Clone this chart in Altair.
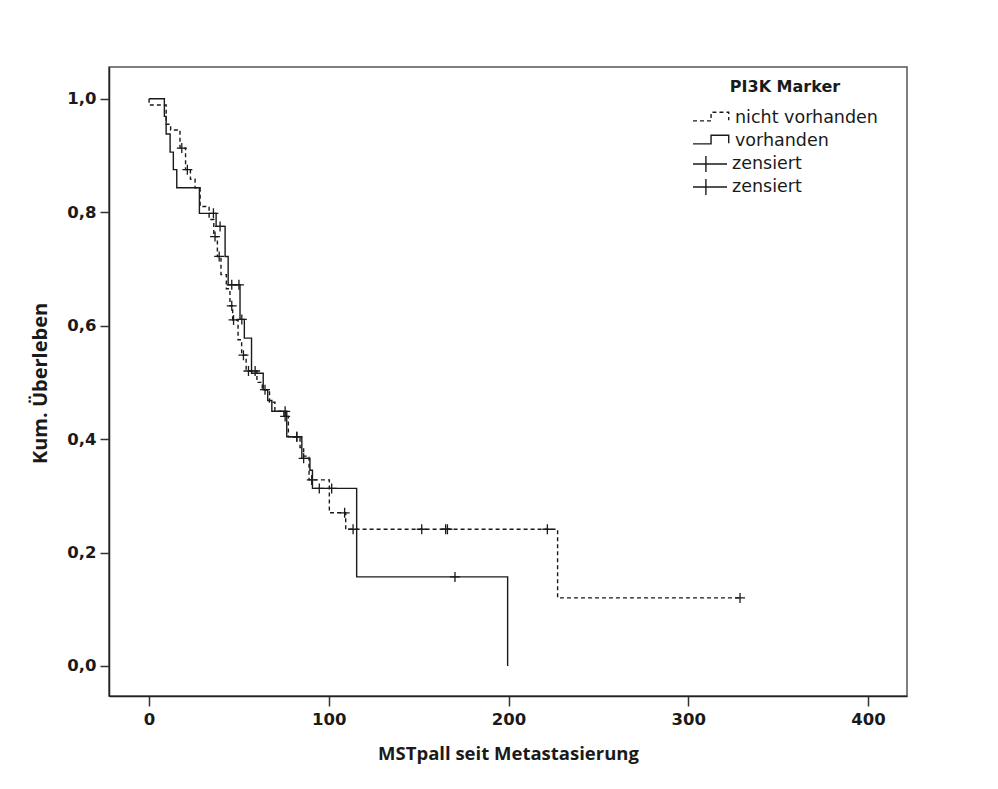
import altair as alt
import pandas as pd

# ---------------- data ----------------
groups = ["nicht vorhanden", "vorhanden"]
censor_groups = ["zensiert (nicht vorhanden)", "zensiert (vorhanden)"]

# step curve "nicht vorhanden" (dashed): time, survival after the step
dash_t = [0, 0, 9.5, 12.0, 17.2, 20.3, 23.0, 25.6, 28.4, 33.4, 36.0, 38.0, 40.0, 43.0,
          45.0, 46.5, 49.5, 51.5, 54.0, 60.0, 63.0, 67.0, 70.0, 75.0, 77.5, 84.0, 86.0,
          89.0, 100.3, 109.4, 227.3, 328.8]
dash_s = [1.0, 0.989, 0.955, 0.945, 0.913, 0.875, 0.858, 0.843, 0.81, 0.787, 0.757, 0.722,
          0.69, 0.665, 0.635, 0.61, 0.575, 0.548, 0.52, 0.5, 0.487, 0.465, 0.449, 0.44,
          0.404, 0.385, 0.37, 0.328, 0.27, 0.241, 0.12, 0.12]

# step curve "vorhanden" (solid)
solid_t = [0, 8.5, 9.5, 11.7, 13.5, 15.4, 28.0, 37.3, 42.3, 44.0, 50.6, 53.0, 57.0, 63.5,
           66.0, 68.3, 76.6, 85.0, 89.5, 90.9, 115.5, 199.5]
solid_s = [1.0, 0.969, 0.938, 0.906, 0.875, 0.843, 0.798, 0.775, 0.722, 0.672, 0.611, 0.578,
           0.516, 0.487, 0.468, 0.449, 0.404, 0.366, 0.345, 0.313, 0.157, 0.0]

# censored observations
cens_dash_t = [18.2, 21.3, 36.7, 39.0, 46.0, 47.0, 52.5, 55.3, 59.0, 64.5, 75.7, 82.2,
               90.5, 108.8, 113.5, 151.7, 165.0, 166.0, 221.6, 328.8]
cens_dash_s = [0.913, 0.875, 0.757, 0.722, 0.635, 0.61, 0.548, 0.52, 0.52, 0.487, 0.44,
               0.404, 0.328, 0.27, 0.241, 0.241, 0.241, 0.241, 0.241, 0.12]
cens_solid_t = [35.8, 39.5, 46.0, 50.0, 51.6, 75.7, 82.2, 86.0, 94.7, 101.6, 170.2]
cens_solid_s = [0.798, 0.775, 0.672, 0.672, 0.611, 0.449, 0.404, 0.366, 0.313, 0.313, 0.157]

x_ticks = [0, 100, 200, 300, 400]
y_ticks = [0.0, 0.2, 0.4, 0.6, 0.8, 1.0]

# ---------------- tables ----------------
lines = pd.DataFrame({
    "t": dash_t + solid_t,
    "s": dash_s + solid_s,
    "g": [groups[0]] * len(dash_t) + [groups[1]] * len(solid_t),
    "o": list(range(len(dash_t))) + list(range(len(solid_t))),
})
cens = pd.DataFrame({
    "t": cens_dash_t + cens_solid_t,
    "s": cens_dash_s + cens_solid_s,
    "c": [censor_groups[0]] * len(cens_dash_t) + [censor_groups[1]] * len(cens_solid_t),
})

FONT = "DejaVu Sans"
TFONT = "Open Sans"
INK = "#1a1a1a"

x_scale = alt.Scale(domain=[-22.3, 421.7], nice=False, zero=False)
y_scale = alt.Scale(domain=[-0.053, 1.056], nice=False, zero=False)

x_axis = alt.Axis(
    values=x_ticks, format="d", title="MSTpall seit Metastasierung",
    labelFont=FONT, labelFontSize=16.5, labelFontWeight="bold", labelColor=INK,
    labelPadding=5, tickSize=10, tickColor="#333", tickWidth=1.5,
    domainColor="#222", domainWidth=1.5, grid=False,
    titleFont=TFONT, titleFontSize=18.5, titleFontWeight="bold", titleColor=INK,
    titleX=399, titleY=57, titleBaseline="middle", titleAlign="center",
)
y_axis = alt.Axis(
    values=y_ticks, title="Kum. Überleben",
    labelExpr="replace(format(datum.value, '.1f'), '.', ',')",
    labelFont=FONT, labelFontSize=16.5, labelFontWeight="bold", labelColor=INK,
    labelPadding=4, tickSize=9, tickColor="#333", tickWidth=1.5,
    domainColor="#222", domainWidth=1.5, grid=False,
    titleFont=TFONT, titleFontSize=20, titleFontWeight="bold", titleColor=INK,
    titleX=-69, titleY=316, titleBaseline="middle", titleAlign="center", titleAngle=270,
)

step_symbol = "M-1,0.15 L-0.05,0.15 L-0.05,-0.3 L0.88,-0.3 L0.88,0.12"
cross_legend_symbol = "M-1,0 L1,0 M-0.24,-0.47 L-0.24,0.47"
cross_mark = "M-1,0 L1,0 M0,-1 L0,1"

line = alt.Chart(lines).mark_line(
    interpolate="step-after", color=INK, strokeWidth=1.4
).encode(
    x=alt.X("t:Q", scale=x_scale, axis=x_axis),
    y=alt.Y("s:Q", scale=y_scale, axis=y_axis),
    order="o:Q",
    strokeDash=alt.StrokeDash(
        "g:N",
        scale=alt.Scale(domain=groups, range=[[4, 3], [1, 0]]),
        legend=alt.Legend(
            title="PI3K Marker", orient="none", legendX=583, legendY=12,
            padding=0, titleAnchor="middle", titlePadding=13,
            titleFont=FONT, titleFontSize=16, titleFontWeight="bold", titleColor=INK,
            labelFont=FONT, labelFontSize=17.5, labelColor=INK, labelOffset=3,
            symbolType=step_symbol, symbolSize=1444, symbolStrokeWidth=1.4,
            symbolStrokeColor=INK, symbolFillColor="transparent",
            clipHeight=20, rowPadding=3,
        ),
    ),
)

points = alt.Chart(cens).mark_point(
    shape=cross_mark, filled=False, size=100, strokeWidth=1.3, opacity=1
).encode(
    x=alt.X("t:Q", scale=x_scale),
    y=alt.Y("s:Q", scale=y_scale),
    color=alt.Color(
        "c:N",
        scale=alt.Scale(domain=censor_groups, range=[INK, INK]),
        legend=alt.Legend(
            title=None, orient="none", legendX=583, legendY=87, padding=0,
            labelExpr="'zensiert'",
            labelFont=FONT, labelFontSize=17.5, labelColor=INK, labelOffset=4,
            symbolType=cross_legend_symbol, symbolSize=1156, symbolStrokeWidth=1.4,
            symbolFillColor="transparent",
            clipHeight=20, rowPadding=3,
        ),
    ),
)

chart = alt.layer(line, points).resolve_legend(
    strokeDash="independent", color="independent"
).properties(
    width=798, height=629,
    autosize=alt.AutoSizeParams(type="none"),
    padding={"left": 109, "top": 67, "right": 91, "bottom": 93},
    background="white",
).configure_view(stroke="#555", strokeWidth=1.5)

chart.save("out.html", embed_options={"renderer": "svg", "actions": False})
